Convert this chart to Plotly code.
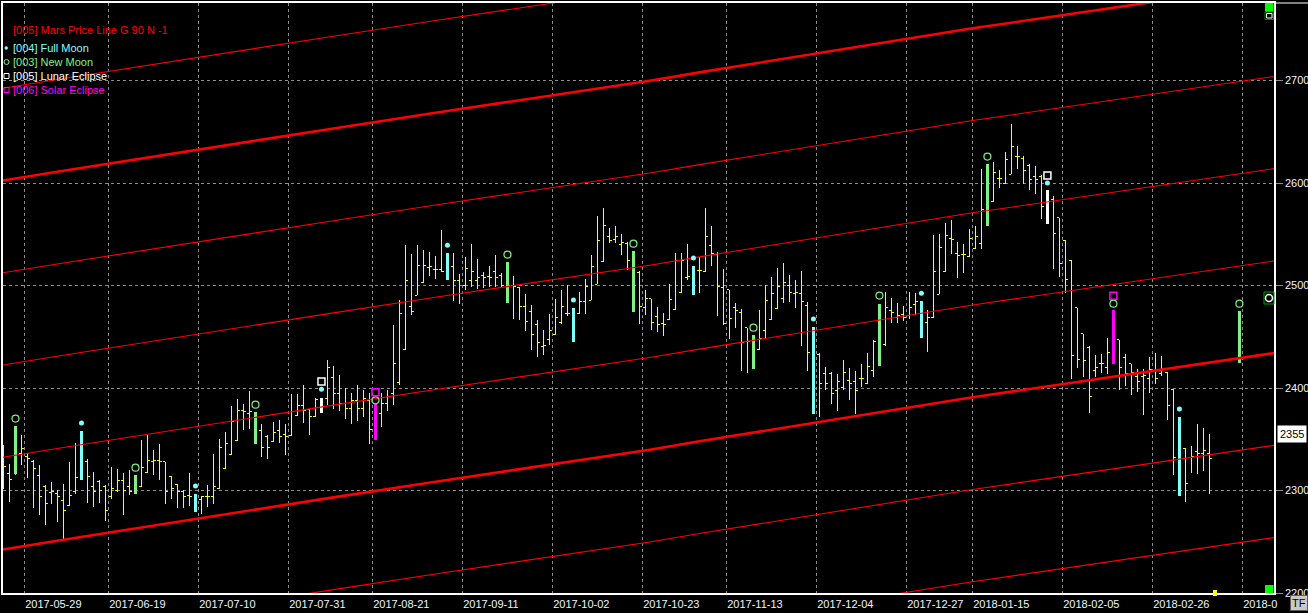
import plotly.graph_objects as go

# ---------------- data ----------------
bar_index = list(range(0, 202)) + [206]

opens = [
    2319.7, 2316.5, 2316.5, 2336.0, 2332.8, 2327.9, 2314.9, 2303.5, 2297.6, 2297.0,
    2290.5, 2285.6, 2298.6, 2311.6, 2327.9, 2303.5, 2308.4, 2303.5, 2293.7, 2300.2,
    2310.0, 2303.5, 2305.1, 2304.4, 2317.1, 2328.8, 2329.5, 2327.9, 2313.2, 2306.1,
    2298.6, 2295.4, 2295.4, 2291.1, 2293.7, 2294.4, 2301.8, 2321.4, 2335.0, 2349.0,
    2377.6, 2375.0, 2372.4, 2358.8, 2352.3, 2347.4, 2358.1, 2354.9, 2353.9, 2373.4,
    2383.2, 2379.0, 2372.4, 2376.7, 2390.0, 2410.0, 2395.0, 2385.0, 2380.0, 2388.0,
    2380.0, 2388.0, 2356.0, 2375.0, 2385.0, 2395.0, 2405.0, 2437.5, 2480.0, 2490.5,
    2502.5, 2517.5, 2515.6, 2515.6, 2522.0, 2518.8, 2505.0, 2500.3, 2505.1, 2505.1,
    2510.0, 2508.4, 2513.3, 2510.0, 2510.0, 2500.3, 2498.0, 2480.0, 2475.0, 2462.0,
    2441.0, 2447.2, 2452.1, 2463.5, 2473.0, 2472.6, 2473.0, 2484.0, 2485.6, 2501.2,
    2523.0, 2548.1, 2545.0, 2540.0, 2541.0, 2533.8, 2513.0, 2479.0, 2487.2, 2470.0,
    2463.0, 2467.0, 2476.5, 2492.8, 2508.0, 2516.5, 2515.0, 2513.3, 2539.0, 2530.0,
    2498.0, 2496.0, 2479.0, 2474.0, 2459.0, 2444.0, 2438.0, 2456.0, 2466.7, 2477.5,
    2487.0, 2500.0, 2492.0, 2492.0, 2481.0, 2459.6, 2433.0, 2414.0, 2414.0, 2398.0,
    2401.0, 2407.0, 2406.0, 2409.0, 2404.0, 2417.0, 2422.2, 2442.0, 2476.0, 2469.0,
    2472.0, 2471.0, 2482.0, 2479.1, 2464.0, 2469.0, 2491.5, 2513.3, 2546.0, 2531.0,
    2530.0, 2528.5, 2536.5, 2541.0, 2558.8, 2582.5, 2604.0, 2600.0, 2608.5, 2625.5,
    2623.8, 2617.3, 2606.6, 2606.6, 2592.9, 2583.8, 2566.3, 2543.5, 2524.6, 2478.4,
    2453.0, 2440.0, 2417.0, 2423.8, 2420.5, 2430.9, 2447.2, 2430.0, 2423.8, 2410.8,
    2411.4, 2409.0, 2417.3, 2414.0, 2415.6, 2398.4, 2371.7, 2340.8, 2332.7, 2338.5,
    2335.9, 2336.6,
    2430.3,
]
highs = [
    2344.2, 2326.2, 2362.7, 2353.9, 2336.6, 2329.5, 2324.6, 2305.1, 2308.4, 2300.9,
    2306.7, 2327.9, 2346.4, 2358.1, 2331.1, 2318.1, 2310.0, 2305.1, 2323.0, 2321.4,
    2317.1, 2320.4, 2314.9, 2349.0, 2353.9, 2339.3, 2345.8, 2327.9, 2313.9, 2306.7,
    2300.9, 2317.1, 2297.0, 2293.7, 2305.1, 2336.0, 2350.6, 2357.1, 2382.2, 2389.7,
    2384.1, 2396.8, 2376.7, 2365.3, 2353.9, 2366.9, 2368.5, 2364.6, 2394.6, 2394.6,
    2402.7, 2379.9, 2390.6, 2390.6, 2427.1, 2421.2, 2412.4, 2400.0, 2395.0, 2403.0,
    2398.0, 2395.0, 2384.0, 2395.0, 2398.0, 2461.2, 2486.3, 2539.3, 2531.1, 2539.3,
    2534.4, 2532.8, 2528.6, 2554.6, 2531.8, 2531.8, 2511.6, 2527.9, 2540.3, 2526.3,
    2513.3, 2518.8, 2529.5, 2512.3, 2523.0, 2509.0, 2498.6, 2492.1, 2480.7, 2466.1,
    2456.3, 2472.6, 2487.2, 2496.0, 2500.3, 2478.5, 2493.7, 2506.8, 2529.5, 2567.6,
    2576.1, 2556.5, 2557.8, 2550.0, 2542.5, 2533.8, 2514.0, 2496.0, 2487.2, 2479.1,
    2473.2, 2501.9, 2531.8, 2531.8, 2540.3, 2518.8, 2527.9, 2576.1, 2557.8, 2532.8,
    2516.6, 2496.0, 2483.0, 2477.5, 2459.0, 2451.5, 2476.5, 2500.3, 2508.4, 2517.5,
    2522.1, 2510.0, 2505.1, 2514.2, 2484.0, 2459.6, 2434.2, 2420.6, 2415.7, 2414.0,
    2427.0, 2419.9, 2416.6, 2423.8, 2434.2, 2446.6, 2482.4, 2493.7, 2488.2, 2483.0,
    2479.8, 2493.7, 2492.8, 2485.0, 2476.5, 2549.1, 2550.7, 2561.1, 2564.3, 2542.5,
    2540.3, 2555.5, 2557.8, 2614.1, 2618.3, 2620.6, 2613.1, 2630.4, 2657.4, 2635.9,
    2626.1, 2618.3, 2616.4, 2607.6, 2593.6, 2587.1, 2566.3, 2544.1, 2525.3, 2478.4,
    2453.0, 2440.7, 2431.9, 2432.9, 2449.2, 2475.8, 2447.2, 2432.9, 2423.8, 2418.9,
    2418.9, 2430.3, 2434.2, 2431.0, 2415.6, 2399.4, 2371.7, 2341.8, 2343.1, 2365.3,
    2361.3, 2354.8,
    2475.2,
]
lows = [
    2301.8, 2288.8, 2315.8, 2324.6, 2312.6, 2283.3, 2275.8, 2266.1, 2287.2, 2269.3,
    2251.4, 2284.9, 2296.3, 2310.0, 2287.9, 2284.0, 2287.9, 2270.3, 2292.1, 2298.6,
    2275.8, 2295.4, 2296.3, 2303.5, 2317.1, 2314.9, 2310.0, 2286.6, 2292.1, 2283.0,
    2283.0, 2284.6, 2279.1, 2277.5, 2284.0, 2286.6, 2301.8, 2321.4, 2335.0, 2348.4,
    2359.4, 2360.4, 2345.8, 2332.8, 2331.1, 2347.4, 2346.4, 2334.4, 2353.2, 2372.8,
    2365.9, 2354.5, 2371.8, 2375.7, 2383.2, 2380.0, 2378.0, 2370.0, 2365.0, 2368.0,
    2372.0, 2345.0, 2349.0, 2362.0, 2378.0, 2383.0, 2402.7, 2437.5, 2471.0, 2490.5,
    2502.5, 2509.0, 2506.8, 2513.3, 2505.1, 2485.0, 2482.4, 2495.4, 2498.6, 2497.0,
    2498.0, 2498.6, 2498.6, 2498.6, 2483.0, 2467.7, 2466.1, 2455.7, 2437.5, 2430.3,
    2431.9, 2441.7, 2452.1, 2462.8, 2470.0, 2445.0, 2472.6, 2472.6, 2485.6, 2501.2,
    2523.0, 2541.6, 2541.6, 2529.5, 2515.6, 2474.2, 2462.8, 2471.0, 2457.0, 2454.7,
    2450.8, 2466.1, 2476.5, 2492.8, 2505.8, 2490.5, 2492.8, 2513.3, 2518.8, 2470.0,
    2461.2, 2448.2, 2459.0, 2416.7, 2414.7, 2418.9, 2437.5, 2448.2, 2466.7, 2477.5,
    2483.0, 2484.0, 2478.5, 2440.7, 2416.7, 2375.0, 2371.8, 2398.4, 2384.1, 2377.6,
    2398.4, 2388.7, 2375.0, 2401.0, 2403.6, 2410.8, 2421.2, 2440.7, 2463.5, 2463.5,
    2465.4, 2467.7, 2471.0, 2449.2, 2435.2, 2468.7, 2491.5, 2513.3, 2530.5, 2507.7,
    2512.3, 2527.9, 2536.0, 2536.0, 2557.8, 2581.6, 2595.5, 2599.5, 2608.5, 2614.1,
    2598.8, 2593.6, 2589.7, 2565.3, 2559.8, 2516.5, 2508.4, 2492.8, 2409.2, 2419.9,
    2410.8, 2375.6, 2410.8, 2414.7, 2414.0, 2423.8, 2398.4, 2401.7, 2392.9, 2396.1,
    2373.4, 2395.2, 2404.3, 2411.4, 2369.1, 2314.8, 2294.3, 2288.8, 2317.0, 2316.4,
    2319.0, 2296.9,
    2424.4,
]
closes = [
    2323.0, 2310.6, 2350.6, 2340.9, 2331.1, 2321.4, 2294.4, 2287.2, 2298.6, 2293.7,
    2280.7, 2295.4, 2312.3, 2343.8, 2313.2, 2298.6, 2300.2, 2280.1, 2301.9, 2310.0,
    2300.2, 2298.6, 2305.1, 2322.0, 2329.5, 2329.5, 2327.9, 2298.6, 2301.9, 2298.6,
    2293.7, 2294.4, 2288.8, 2293.7, 2293.7, 2303.5, 2341.9, 2345.8, 2366.9, 2378.3,
    2377.3, 2377.3, 2358.1, 2341.9, 2341.9, 2357.1, 2352.3, 2352.3, 2376.7, 2383.2,
    2378.3, 2371.8, 2388.7, 2387.1, 2420.0, 2395.0, 2385.0, 2380.0, 2388.0, 2380.0,
    2390.0, 2360.0, 2376.0, 2385.0, 2392.0, 2424.4, 2472.6, 2504.5, 2475.0, 2519.8,
    2519.8, 2518.2, 2515.6, 2514.0, 2517.5, 2505.1, 2492.1, 2516.6, 2513.3, 2507.7,
    2507.7, 2507.7, 2507.7, 2500.0, 2505.1, 2498.6, 2480.0, 2464.5, 2452.4, 2444.3,
    2441.7, 2456.3, 2469.3, 2479.1, 2472.6, 2461.2, 2484.0, 2498.6, 2518.2, 2544.2,
    2558.8, 2544.2, 2547.4, 2541.6, 2524.0, 2493.7, 2479.1, 2487.0, 2464.0, 2462.0,
    2462.0, 2486.3, 2524.7, 2524.7, 2509.0, 2508.4, 2515.0, 2548.1, 2531.0, 2498.6,
    2463.0, 2467.7, 2476.0, 2444.0, 2445.0, 2434.2, 2448.0, 2485.6, 2492.0, 2499.0,
    2503.0, 2492.8, 2493.0, 2484.0, 2435.0, 2410.8, 2404.0, 2404.0, 2395.0, 2406.0,
    2414.7, 2404.0, 2398.0, 2409.0, 2420.6, 2445.0, 2461.2, 2479.0, 2474.0, 2471.0,
    2469.0, 2479.0, 2484.0, 2467.7, 2469.0, 2513.3, 2537.6, 2549.1, 2545.0, 2529.0,
    2530.0, 2545.8, 2547.4, 2574.0, 2605.3, 2610.2, 2604.0, 2622.9, 2635.9, 2625.5,
    2611.8, 2603.3, 2603.3, 2577.3, 2570.2, 2550.7, 2522.0, 2505.8, 2431.9, 2427.7,
    2427.0, 2391.9, 2419.9, 2423.8, 2435.0, 2449.8, 2420.5, 2414.0, 2415.6, 2406.0,
    2412.4, 2418.0, 2409.0, 2418.9, 2383.0, 2332.7, 2313.2, 2306.7, 2333.4, 2336.6,
    2339.2, 2331.0,
    2449.2,
]

# lunar events: bar index and marker level
full_moon_bars = [13, 32, 74, 95, 115, 135, 153, 196]
full_moon_dots_x = [13, 32, 53, 74, 95, 115, 135, 153, 174, 196]
full_moon_dots_y = [2365.9, 2304.4, 2398.8, 2539.3, 2485.9, 2526.9, 2467.4, 2492.5, 2600.1, 2379.5]

new_moon_bars = [2, 22, 42, 84, 105, 125, 146, 164, 206]
new_moon_circ_x = [2, 22, 42, 62, 84, 105, 125, 146, 164, 185, 206]
new_moon_circ_y = [2370.2, 2322.3, 2383.8, 2388.0, 2530.2, 2540.9, 2458.9, 2490.2, 2625.8, 2482.3, 2482.3]

lunar_eclipse_bars = [53, 174]
lunar_eclipse_y = [2406.3, 2607.3]
solar_eclipse_bars = [62, 185]
solar_eclipse_y = [2396.0, 2490.1]

# Mars price line (base harmonic) sampled along the chart, and its 90-point harmonics
mars_x = [-1.0, 10, 55, 72, 108, 116, 161, 213]
mars_base = [2241.6, 2252.0, 2293.3, 2308.6, 2340.0, 2348.0, 2390.5, 2435.1]
mars_offsets = [-180, -90, 0, 90, 180, 270, 360, 450]
mars_thick = [0, 360]

tick_pos = [3.5, 17.5, 32.5, 47.5, 61.5, 76.5, 91.5, 106.5, 120.5, 135.5, 150.5, 161.5, 176.5, 191.5, 206.5]
tick_text = ["2017-05-29", "2017-06-19", "2017-07-10", "2017-07-31", "2017-08-21", "2017-09-11",
             "2017-10-02", "2017-10-23", "2017-11-13", "2017-12-04", "2017-12-27", "2018-01-15",
             "2018-02-05", "2018-02-26", "2018-0"]
y_ticks = [2200, 2300, 2400, 2500, 2600, 2700]
last_price = 2355

# ---------------- styling ----------------
W, H = 1308, 613
L, R, T, B = 3, 34, 3, 20
X_RANGE = [-0.0833, 211.767]
Y_RANGE = [2200, 2775.7]
FONT = "Liberation Sans, Arial, sans-serif"
YELLOW = "#FFFF00"
CYAN = "#80FFFF"
GREEN = "#80F080"
WHITE = "#FFFFFF"
MAGENTA = "#FF00FF"
RED = "#FF0000"
GRID = "#8C8C8C"


def px(x):
    return (x - L) / (W - L - R)


def py(y):
    return (H - B - y) / (H - T - B)


pos = {b: k for k, b in enumerate(bar_index)}


def subset(ids):
    ks = [pos[b] for b in ids]
    return ([bar_index[k] for k in ks], [opens[k] for k in ks], [highs[k] for k in ks],
            [lows[k] for k in ks], [closes[k] for k in ks])


def min_gap(xs):
    s = sorted(xs)
    return min(b - a for a, b in zip(s, s[1:]))


fig = go.Figure()

# Mars price lines
for off in mars_offsets:
    fig.add_trace(go.Scatter(
        x=mars_x, y=[v + off for v in mars_base], mode="lines",
        line=dict(color=RED, width=2.6 if off in mars_thick else 1.1),
        hoverinfo="skip", showlegend=False))

event_sets = set(full_moon_bars + new_moon_bars + lunar_eclipse_bars + solar_eclipse_bars)
plain = [b for b in bar_index if b not in event_sets]


def add_ohlc(ids, color, width, tick_units):
    x, o, h, l, c = subset(ids)
    tw = min(0.5, tick_units / min_gap(x))
    fig.add_trace(go.Ohlc(
        x=x, open=o, high=h, low=l, close=c, tickwidth=tw,
        increasing=dict(line=dict(color=color, width=width)),
        decreasing=dict(line=dict(color=color, width=width)),
        hoverinfo="skip", showlegend=False))


add_ohlc(plain, YELLOW, 1, 0.42)
add_ohlc(full_moon_bars, CYAN, 3, 0.45)
add_ohlc(new_moon_bars, GREEN, 3, 0.45)
add_ohlc(lunar_eclipse_bars, WHITE, 3, 0.45)
add_ohlc(solar_eclipse_bars, MAGENTA, 3, 0.45)

# markers above event bars
fig.add_trace(go.Scatter(x=full_moon_dots_x, y=full_moon_dots_y, mode="markers",
                         marker=dict(symbol="circle", size=5, color=CYAN, line=dict(width=0)),
                         hoverinfo="skip", showlegend=False))
fig.add_trace(go.Scatter(x=new_moon_circ_x, y=new_moon_circ_y, mode="markers",
                         marker=dict(symbol="circle-open", size=7, color=GREEN, line=dict(width=1.2)),
                         hoverinfo="skip", showlegend=False))
fig.add_trace(go.Scatter(x=lunar_eclipse_bars, y=lunar_eclipse_y, mode="markers",
                         marker=dict(symbol="square-open", size=7, color=WHITE, line=dict(width=1.5)),
                         hoverinfo="skip", showlegend=False))
fig.add_trace(go.Scatter(x=solar_eclipse_bars, y=solar_eclipse_y, mode="markers",
                         marker=dict(symbol="square-open", size=7, color=MAGENTA, line=dict(width=1.5)),
                         hoverinfo="skip", showlegend=False))

shapes = []
annotations = []

# legend block (top left)
legend_rows = [
    ("[005] Mars Price Line G 90 N -1", RED, 30, None),
    ("[004] Full Moon", CYAN, 48, "dot"),
    ("[003] New Moon", GREEN, 62, "circle"),
    ("[005] Lunar Eclipse", WHITE, 76, "square"),
    ("[006] Solar Eclipse", MAGENTA, 90, "square"),
]
for text, col, yy, icon in legend_rows:
    annotations.append(dict(text=text, x=px(11), y=py(yy), xref="paper", yref="paper",
                            xanchor="left", yanchor="middle", showarrow=False,
                            font=dict(family=FONT, size=11, color=col)))
    if icon == "dot":
        shapes.append(dict(type="circle", xref="paper", yref="paper", x0=px(4.5), x1=px(8),
                           y0=py(49.8), y1=py(46.3), fillcolor=col, line=dict(width=0)))
    elif icon == "circle":
        shapes.append(dict(type="circle", xref="paper", yref="paper", x0=px(4), x1=px(9),
                           y0=py(64.5), y1=py(59.5), line=dict(color=col, width=1)))
    elif icon == "square":
        shapes.append(dict(type="rect", xref="paper", yref="paper", x0=px(4), x1=px(9),
                           y0=py(yy + 2.5), y1=py(yy - 2.5), line=dict(color=col, width=1)))

# right-edge decorations
shapes += [
    dict(type="rect", xref="paper", yref="paper", x0=px(1265), x1=px(1273.5), y0=py(12), y1=py(3),
         fillcolor="#00FF00", line=dict(width=0)),
    dict(type="rect", xref="paper", yref="paper", x0=px(1265), x1=px(1273.5), y0=py(19.5), y1=py(12),
         fillcolor="#000000", line=dict(color="#008000", width=1)),
    dict(type="rect", xref="paper", yref="paper", x0=px(1266.5), x1=px(1272), y0=py(18), y1=py(13.5),
         fillcolor="#000000", line=dict(color=WHITE, width=1)),
    dict(type="rect", xref="paper", yref="paper", x0=px(1265), x1=px(1273.5), y0=py(593), y1=py(585),
         fillcolor="#00FF00", line=dict(width=0)),
    dict(type="rect", xref="paper", yref="paper", x0=px(1264), x1=px(1274), y0=py(304), y1=py(292),
         fillcolor="#000000", line=dict(color="#00A000", width=1)),
    dict(type="circle", xref="paper", yref="paper", x0=px(1265.5), x1=px(1272.5), y0=py(301.5), y1=py(294.5),
         fillcolor="#000000", line=dict(color=WHITE, width=1.5)),
    dict(type="rect", xref="paper", yref="paper", x0=px(1213), x1=px(1217), y0=py(596), y1=py(590),
         fillcolor=YELLOW, line=dict(width=0)),
    dict(type="line", xref="paper", yref="paper", x0=1, x1=px(1308), y0=py(3), y1=py(3),
         line=dict(color=WHITE, width=1)),
]

# current price label
annotations.append(dict(text=str(last_price), x=px(1277), y=last_price, xref="paper", yref="y",
                        xanchor="left", yanchor="middle", showarrow=False, bgcolor=WHITE,
                        font=dict(family=FONT, size=11, color="#000000"), borderpad=2))
# TF button
annotations.append(dict(text="TF", x=px(1290), y=py(611), xref="paper", yref="paper",
                        xanchor="left", yanchor="bottom", showarrow=False, bgcolor="#C8C8C8",
                        bordercolor="#606060", borderwidth=1, borderpad=1,
                        font=dict(family=FONT, size=11, color="#000000")))

fig.update_layout(
    width=W, height=H,
    margin=dict(l=L, r=R, t=T, b=B, pad=0),
    paper_bgcolor="#000000", plot_bgcolor="#000000",
    showlegend=False, hovermode=False,
    shapes=shapes, annotations=annotations,
    font=dict(family=FONT, size=11, color="#F0F4FF"),
    xaxis=dict(range=X_RANGE, tickmode="array", tickvals=tick_pos, ticktext=tick_text,
               ticklabelposition="outside right", ticks="", showgrid=True, gridcolor=GRID,
               griddash="3px,3px", gridwidth=1, zeroline=False, showline=True,
               linecolor=WHITE, linewidth=1.5, mirror=True, automargin=False,
               rangeslider=dict(visible=False),
               tickfont=dict(family=FONT, size=11, color="#F0F4FF")),
    yaxis=dict(range=Y_RANGE, side="right", tickmode="array", tickvals=y_ticks,
               ticks="outside", ticklen=7, tickcolor=GRID, showgrid=True, gridcolor=GRID,
               griddash="3px,3px", gridwidth=1, zeroline=False, showline=True,
               linecolor=WHITE, linewidth=1.5, mirror=True, automargin=False,
               tickfont=dict(family=FONT, size=11, color="#F0F4FF")),
)

post = (
    "document.body.style.margin='0';document.body.style.overflow='hidden';"
    "document.querySelectorAll('g.ohlc path').forEach(function(p){p.style.shapeRendering='crispEdges';});"
)
fig.write_html("out.html", config={"displayModeBar": False}, post_script=post)
